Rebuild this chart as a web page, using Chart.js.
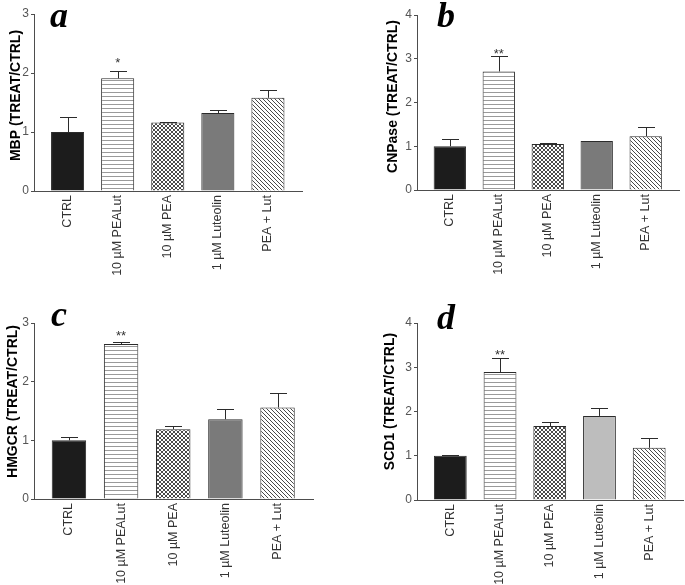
<!DOCTYPE html>
<html><head><meta charset="utf-8">
<script src="https://cdn.jsdelivr.net/npm/chart.js@4.4.1/dist/chart.umd.min.js"></script>
<style>
html,body{margin:0;padding:0;background:#fff;width:685px;height:585px;overflow:hidden}
canvas{position:absolute}
</style></head><body>
<canvas id="pa" width="342" height="290" style="left:0;top:0"></canvas>
<canvas id="pb" width="343" height="290" style="left:342px;top:0"></canvas>
<canvas id="pc" width="342" height="295" style="left:0;top:290px"></canvas>
<canvas id="pd" width="343" height="295" style="left:342px;top:290px"></canvas>
<script>
// ---- data ----
const categories = ['CTRL', '10 \u00B5M PEALut', '10 \u00B5M PEA', '1 \u00B5M Luteolin', 'PEA + Lut'];
const mbpMean = [1.00, 1.91, 1.16, 1.32, 1.58];
const mbpErr  = [0.26, 0.13, 0.01, 0.05, 0.14];
const cnpMean = [1.00, 2.71, 1.05, 1.12, 1.23];
const cnpErr  = [0.16, 0.36, 0.02, 0.01, 0.22];
const hmgMean = [1.00, 2.64, 1.19, 1.36, 1.56];
const hmgErr  = [0.05, 0.04, 0.06, 0.17, 0.25];
const scdMean = [1.00, 2.89, 1.67, 1.90, 1.18];
const scdErr  = [0.02, 0.33, 0.10, 0.18, 0.22];
const sigMBP  = ['', '*', '', '', ''];
const sigCNP  = ['', '**', '', '', ''];
const sigHMG  = ['', '**', '', '', ''];
const sigSCD  = ['', '**', '', '', ''];
const yTicks3 = [0, 1, 2, 3];
const yTicks4 = [0, 1, 2, 3, 4];
const yTitles = ['MBP (TREAT/CTRL)', 'CNPase (TREAT/CTRL)', 'HMGCR (TREAT/CTRL)', 'SCD1 (TREAT/CTRL)'];
const panelLetters = ['a', 'b', 'c', 'd'];

// ---- fills ----
function makePattern(size, draw) {
  const c = document.createElement('canvas');
  c.width = size; c.height = size;
  const g = c.getContext('2d');
  g.fillStyle = '#fff'; g.fillRect(0, 0, size, size);
  draw(g, size);
  return g.createPattern(c, 'repeat');
}
const hLines = makePattern(4, g => { g.fillStyle = '#9a9a9a'; g.fillRect(0, 0, 4, 1); });
const cross = makePattern(4, g => {
  g.fillStyle = '#4a4a4a';
  for (let i = 0; i < 4; i++) { g.fillRect(i, i, 1, 1); g.fillRect(i, 3 - i, 1, 1); }
});
const diag = makePattern(4, g => {
  g.fillStyle = '#4a4a4a';
  for (let i = 0; i < 4; i++) { g.fillRect(i, i, 1, 1); }
});
const fillsDark  = ['#1c1c1c', hLines, cross, '#7a7a7a', diag];
const fillsLight = ['#1c1c1c', hLines, cross, '#bdbdbd', diag];

const decor = {
  id: 'panelDecor',
  afterDatasetsDraw(chart, args, o) {
    const ctx = chart.ctx;
    const meta = chart.getDatasetMeta(0);
    const ys = chart.scales.y;
    ctx.save();
    ctx.strokeStyle = '#2b2b2b';
    ctx.lineWidth = 1;
    meta.data.forEach((bar, i) => {
      const top = Math.round(ys.getPixelForValue(o.mean[i] + o.err[i])) + 0.5;
      const x = Math.round(bar.x) + 0.5;
      ctx.beginPath();
      ctx.moveTo(x, bar.y); ctx.lineTo(x, top);
      ctx.moveTo(x - o.cap, top); ctx.lineTo(x + o.cap, top);
      ctx.stroke();
      if (o.sig[i]) {
        ctx.fillStyle = '#333';
        ctx.font = '13px "Liberation Sans"';
        ctx.textAlign = 'center';
        ctx.textBaseline = 'middle';
        ctx.fillText(o.sig[i], bar.x, top - o.sigGap + 3);
      }
    });
    ctx.fillStyle = '#000';
    ctx.font = 'italic bold 36px "Liberation Serif"';
    ctx.textAlign = 'left';
    ctx.textBaseline = 'alphabetic';
    ctx.fillText(o.letter, o.letterX, o.letterY);
    const a = chart.chartArea;
    ctx.translate(o.titleX, (a.top + a.bottom) / 2 - o.titleShift);
    ctx.rotate(-Math.PI / 2);
    ctx.font = 'bold 14px "Liberation Sans"';
    ctx.textAlign = 'center';
    ctx.textBaseline = 'middle';
    ctx.fillText(o.title, 0, 0);
    ctx.restore();
  }
};

function makePanel(id, p) {
  const cv = document.getElementById(id);
  const W = cv.width, H = cv.height;
  new Chart(cv, {
    type: 'bar',
    data: {
      datasets: [{
        data: p.mean.map((v, i) => ({ x: i, y: v })),
        backgroundColor: p.fills,
        borderColor: '#2b2b2b',
        borderWidth: 1,
        categoryPercentage: 1,
        barPercentage: 0.66
      }]
    },
    options: {
      responsive: false,
      animation: false,
      events: [],
      layout: { padding: { left: 0, top: p.area.top, right: W - p.area.right, bottom: 0 } },
      plugins: {
        legend: { display: false },
        tooltip: { enabled: false },
        panelDecor: {
          mean: p.mean, err: p.err, sig: p.sig, cap: 8.5, sigGap: p.sigGap,
          letter: p.letter, letterX: p.letterX, letterY: p.letterY,
          title: p.title, titleX: p.titleX, titleShift: p.titleShift
        }
      },
      scales: {
        x: {
          type: 'linear', min: -0.67, max: 4.68, offset: false,
          afterFit: s => { s.height = H - p.area.bottom; },
          afterBuildTicks: s => { s.ticks = categories.map((_, i) => ({ value: i })); },
          grid: { display: false, drawTicks: false },
          border: { display: true, color: '#4d4d4d', width: 1 },
          ticks: {
            autoSkip: false, maxRotation: 90, minRotation: 90, padding: 4,
            color: '#333', font: { family: 'Liberation Sans', size: 12.5 },
            callback: v => categories[v] ?? ''
          }
        },
        y: {
          min: 0, max: p.yTicks[p.yTicks.length - 1],
          afterFit: s => { s.width = p.area.left; },
          afterBuildTicks: s => { s.ticks = p.yTicks.map(v => ({ value: v })); },
          grid: { drawOnChartArea: false, drawTicks: true, tickLength: 3, color: '#4d4d4d' },
          border: { display: true, color: '#4d4d4d', width: 1 },
          ticks: { padding: 2, color: '#555', font: { family: 'Liberation Sans', size: 12 } }
        }
      }
    },
    plugins: [decor]
  });
}

makePanel('pa', { mean: mbpMean, err: mbpErr, sig: sigMBP, fills: fillsDark, yTicks: yTicks3,
  area: { left: 34, top: 14, right: 302, bottom: 191 }, sigGap: 11,
  letter: panelLetters[0], letterX: 50, letterY: 27, title: yTitles[0], titleX: 16.5, titleShift: 7 });
makePanel('pb', { mean: cnpMean, err: cnpErr, sig: sigCNP, fills: fillsDark, yTicks: yTicks4,
  area: { left: 75, top: 15, right: 337, bottom: 190 }, sigGap: 5,
  letter: panelLetters[1], letterX: 95, letterY: 27, title: yTitles[1], titleX: 51, titleShift: 6 });
makePanel('pc', { mean: hmgMean, err: hmgErr, sig: sigHMG, fills: fillsDark, yTicks: yTicks3,
  area: { left: 34, top: 33, right: 313, bottom: 209 }, sigGap: 9,
  letter: panelLetters[2], letterX: 51, letterY: 36, title: yTitles[2], titleX: 13.5, titleShift: 9.5 });
makePanel('pd', { mean: scdMean, err: scdErr, sig: sigSCD, fills: fillsLight, yTicks: yTicks4,
  area: { left: 75, top: 33, right: 341, bottom: 210 }, sigGap: 6.5,
  letter: panelLetters[3], letterX: 95, letterY: 39, title: yTitles[3], titleX: 48.5, titleShift: 10 });
</script>
</body></html>
